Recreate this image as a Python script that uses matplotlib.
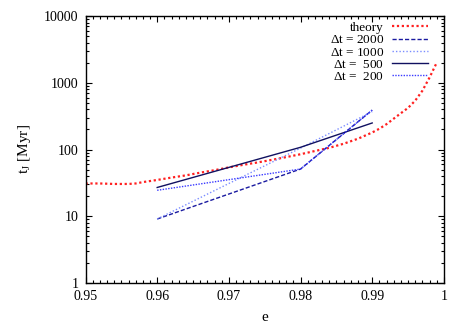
import matplotlib
matplotlib.use("Agg")
import matplotlib.pyplot as plt
from matplotlib.ticker import MultipleLocator, LogLocator, NullFormatter, FixedLocator

plt.rcParams['font.family'] = ['Liberation Serif', 'DejaVu Serif']
plt.rcParams['mathtext.fontset'] = 'custom'
plt.rcParams['mathtext.rm'] = 'Liberation Serif'
plt.rcParams['mathtext.it'] = 'Liberation Serif'

# theory curve
e_theory = [0.950, 0.952, 0.954, 0.956, 0.957, 0.958, 0.960, 0.962, 0.964, 0.966,
            0.968, 0.970, 0.972, 0.974, 0.976, 0.978, 0.980, 0.982, 0.984, 0.986,
            0.988, 0.990, 0.991, 0.992, 0.993, 0.994, 0.995, 0.996, 0.997, 0.998,
            0.999]
t_theory = [31, 31, 30.5, 30.5, 31, 32.5, 35, 38, 41, 45,
            49, 54, 59, 64, 70, 77, 85, 95, 106, 122,
            145, 180, 205, 240, 290, 350, 420, 540, 760, 1200,
            2000]

# simulations
e_2000 = [0.96, 0.98, 0.99]
t_2000 = [9.1, 51, 390]
e_1000 = [0.96, 0.97, 0.98, 0.99]
t_1000 = [9.1, 31, 105, 370]
e_500 = [0.96, 0.97, 0.98, 0.99]
t_500 = [27, 54, 108, 250]
e_200 = [0.96, 0.98, 0.99]
t_200 = [24.5, 51, 390]

fig = plt.figure(figsize=(4.63, 3.24), dpi=100)
ax = fig.add_axes([0.1847, 0.1265, 0.774, 0.824])

ax.plot(e_theory, t_theory, color='#ff2020', ls=(0, (1, 1.2)), lw=1.6, label='theory')
ax.plot(e_2000, t_2000, color='#1a1aa0', ls=(0, (3, 1.5)), lw=1.0, label=r'$\Delta$t = 2000')
ax.plot(e_1000, t_1000, color='#7a8cff', ls=(0, (1, 1.5)), lw=1.0, label=r'$\Delta$t = 1000')
ax.plot(e_500, t_500, color='#101060', ls='-', lw=1.0, label=r'$\Delta$t =  500')
ax.plot(e_200, t_200, color='#3a3aff', ls=(0, (1, 1)), lw=1.0, label=r'$\Delta$t =  200')

ax.set_yscale('log')
ax.set_xlim(0.95, 1.0)
ax.set_ylim(1, 10000)
ax.xaxis.set_major_locator(FixedLocator([0.95, 0.96, 0.97, 0.98, 0.99, 1.0]))
ax.set_xticklabels(['0.95', '0.96', '0.97', '0.98', '0.99', '1'])
ax.xaxis.set_minor_locator(MultipleLocator(0.001))
ax.yaxis.set_major_locator(FixedLocator([1, 10, 100, 1000, 10000]))
ax.set_yticklabels(['1', '10', '100', '1000', '10000'])
ax.yaxis.set_minor_locator(LogLocator(base=10, subs=range(2, 10)))
ax.yaxis.set_minor_formatter(NullFormatter())

ax.tick_params(which='both', direction='in', top=True, right=True, labelsize=10, width=0.8)
ax.tick_params(which='major', length=4, pad=5)
ax.tick_params(which='minor', length=2)
for s in ax.spines.values():
    s.set_linewidth(1.0)

ax.set_xlabel('e', fontsize=11, labelpad=6)
ax.set_ylabel(r't$_\mathrm{J}$ [Myr]', fontsize=11, labelpad=8)

leg = ax.legend(loc='upper right', bbox_to_anchor=(0.962, 0.988), frameon=False,
                fontsize=9.5, markerfirst=False, handlelength=2.7, handletextpad=0.6,
                labelspacing=0.0, borderpad=0.2, borderaxespad=0.0)
for t in leg.get_texts():
    t.set_ha('right')
leg._legend_box.align = 'right'

fig.savefig('out.png', dpi=100)
